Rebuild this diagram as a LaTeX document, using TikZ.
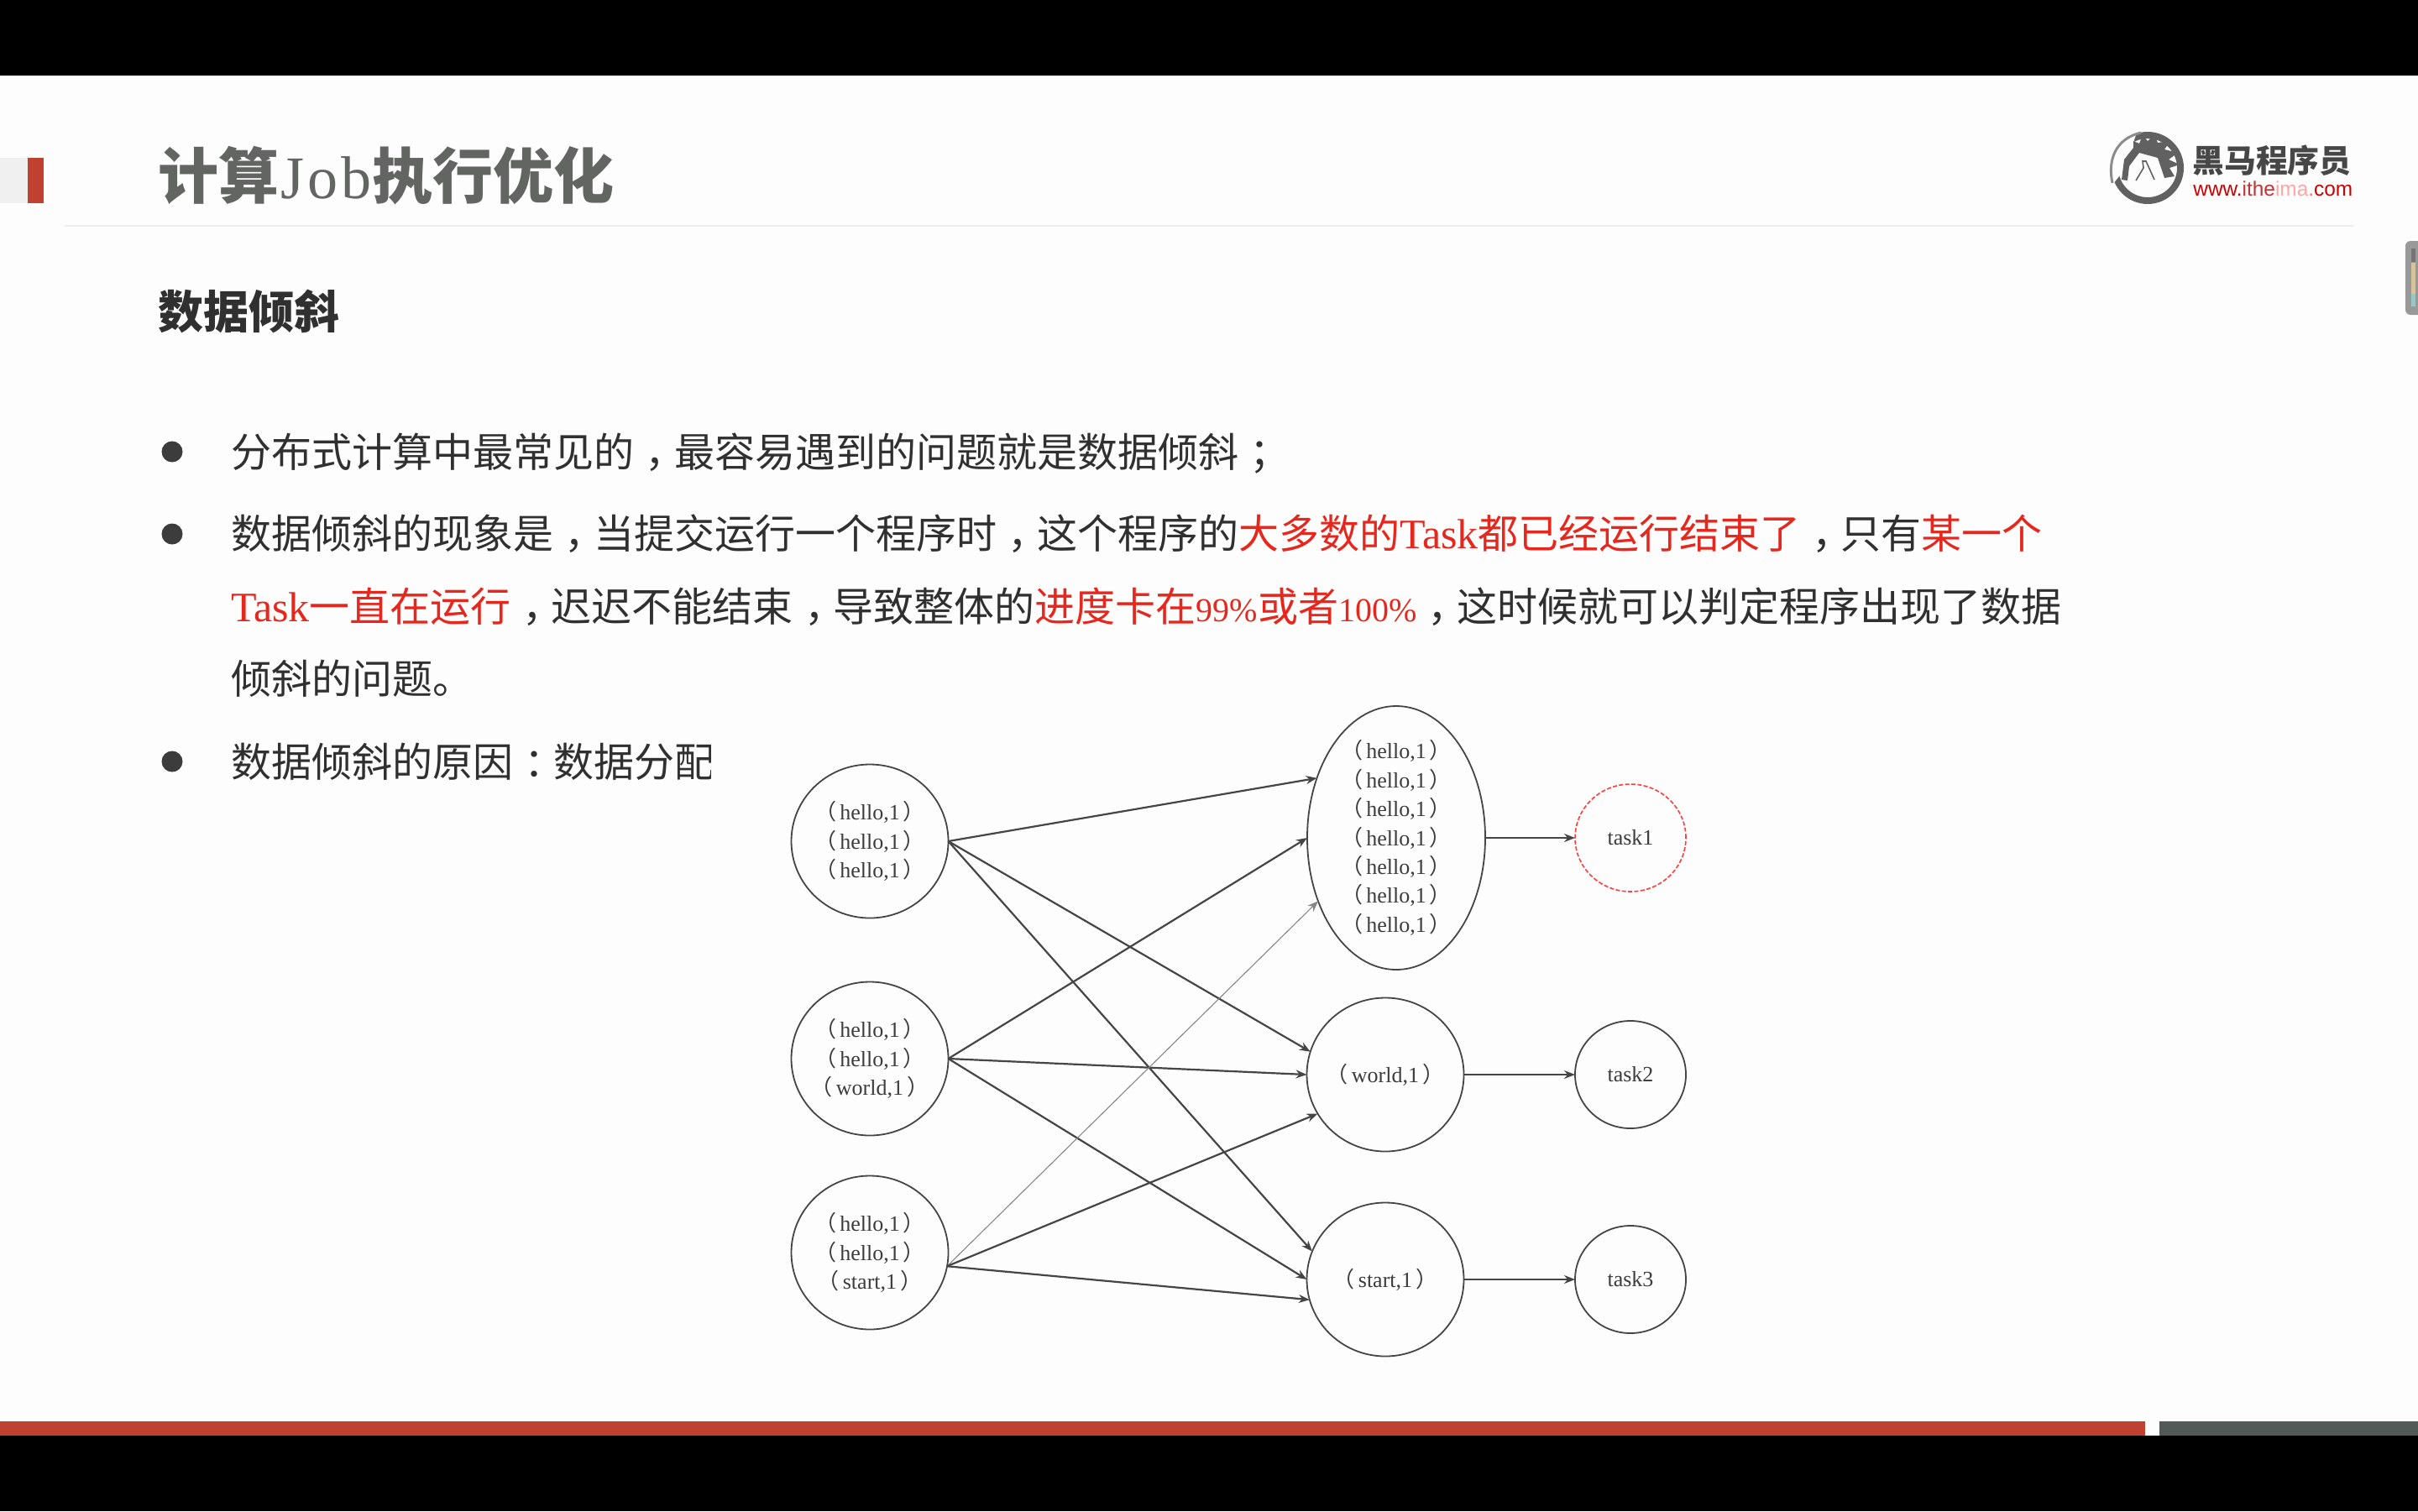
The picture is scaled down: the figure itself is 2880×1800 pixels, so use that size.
\documentclass[tikz,border=0pt]{standalone}
\usepackage{fontspec}
\setmainfont{Liberation Serif}
\setsansfont{Liberation Sans}
\newfontfamily\cjk{Noto Sans CJK SC}
\usetikzlibrary{shapes.geometric,arrows.meta}
\definecolor{pagebg}{HTML}{FDFDFD}
\definecolor{barred}{HTML}{C0412F}
\definecolor{bargrey}{HTML}{525A57}
\definecolor{titlegrey}{HTML}{636563}
\definecolor{bodytxt}{HTML}{303030}
\definecolor{hotred}{HTML}{E5271E}
\definecolor{edgegrey}{HTML}{454545}
\definecolor{labelgrey}{HTML}{3C3C3C}
\newcommand{\zh}[1]{{\cjk #1}}
\newcommand{\rd}[1]{{\color{hotred}#1}}
% full-width punctuation set centred in its cell, as the slide has it
\newcommand{\pn}[1]{\makebox[1em][l]{\kern.28em\zh{#1}}}
\newcommand{\tk}{{\fontsize{25pt}{25pt}\selectfont Task}}
\newcommand{\pc}[1]{{\fontsize{20pt}{20pt}\selectfont #1}}
\tikzset{
  x=0.5pt,y=-0.5pt,
  bodyline/.style={anchor=base west,inner sep=0pt,outer sep=0pt,text=bodytxt,font=\fontsize{24pt}{24pt}\selectfont},
  bulletdot/.style={circle,fill=labelgrey,draw=none,minimum size=12.5pt,inner sep=0pt},
  blob/.style={ellipse,draw=edgegrey,line width=0.9pt,fill=pagebg,inner sep=0pt,outer sep=0pt,
    minimum width=93.5pt,minimum height=91.5pt,align=center,text=labelgrey,
    font=\fontsize{13pt}{17.2pt}\selectfont},
  blobtext/.style={inner sep=0pt,outer sep=0pt,align=center,text=labelgrey,font=\fontsize{13pt}{17.2pt}\selectfont},
  tasknode/.style={blob,minimum width=66pt,minimum height=64pt},
  link/.style={draw=edgegrey,line width=1.1pt,-{Stealth[length=6.5pt,width=5pt]}},
  thinlink/.style={link,draw=edgegrey!65,line width=0.55pt},
}
\newcommand{\pair}[1]{\makebox[50pt][c]{\zh{（}\kern2pt #1\kern2pt\zh{）}}}
\newcommand{\kv}{\pair{hello,1}}
\begin{document}
\begin{tikzpicture}
\useasboundingbox (0,0) rectangle (2880,1800);
\fill[pagebg] (0,0) rectangle (2880,1800);
% bands
\fill[black] (0,0) rectangle (2880,90);
\fill[black] (0,1710) rectangle (2880,1800);
\fill[barred] (0,1693) rectangle (2555,1710);
\fill[bargrey] (2572,1693) rectangle (2880,1710);
% header
\fill[black!6] (0,188) rectangle (33,242);
\fill[barred] (33,188) rectangle (52,242);
\fill[black!7] (77,268) rectangle (2803,270);
\node[anchor=base west,inner sep=0pt,text=titlegrey,font=\fontsize{36pt}{36pt}\selectfont] (title) at (188,236)
  {\zh{\bfseries 计算}\kern1pt J\kern2pt o\kern2pt b\kern.5pt\zh{\bfseries 执行优化}};
\node[anchor=base west,inner sep=0pt,text=bodytxt,font=\fontsize{27pt}{27pt}\selectfont] (sub) at (188,391)
  {\zh{\bfseries 数据倾斜}};
% logo
\fill[black!62,even odd rule] (2558,200) circle[radius=43] (2558,200) circle[radius=35];
\fill[pagebg] (2514,150) -- (2548,150) -- (2528,205) -- (2512,225) -- cycle;
\draw[black!45,line width=1.5pt] (2550,158) .. controls (2520,165) and (2510,190) .. (2516,218);
\fill[black!62] (2527,214) -- (2530,190) -- (2541,176) -- (2541,168) -- (2548,171) -- (2552,161) -- (2558,168) -- (2566,160) -- (2570,170) -- (2585,168) -- (2578,178) -- (2594,182) -- (2583,190) -- (2596,196) -- (2584,200) -- (2590,210) -- (2578,212) -- (2570,188) -- (2548,182) -- (2536,198) -- (2534,215) -- cycle;
\draw[black!62,line width=0.8pt] (2544,215) -- (2553,200) -- (2552,192) -- (2556,192) -- (2566,214);
\node[anchor=base west,inner sep=0pt,text=black!72,font=\fontsize{18.9pt}{18.9pt}\selectfont] (logotxt) at (2611,205) {\zh{\bfseries 黑马程序员}};
\node[anchor=base west,inner sep=0pt,font=\sffamily\fontsize{12.2pt}{12.2pt}\selectfont] (logourl) at (2612,233)
  {\color{red!80!black}www.\color{red!70!black!80}ithe\color{red!35}ima\color{red!55}.\color{red!80!black}com};
% scroll widget
\definecolor{tickamber}{HTML}{D8C49A}
\definecolor{tickteal}{HTML}{9CC6C4}
\fill[black!40,rounded corners=3pt] (2865,287) rectangle (2890,375);
\fill[black!55] (2872,296) rectangle (2877,312);
\fill[tickamber] (2872,313) rectangle (2877,350);
\fill[tickteal] (2872,350) rectangle (2877,365);
% body
\node[bulletdot] (b1) at (205,538) {};
\node[bulletdot] (b2) at (205,636) {};
\node[bulletdot] (b3) at (205,907) {};
\node[bodyline] (l1) at (275,556) {\zh{分布式计算中最常见的}\pn{，}\zh{最容易遇到的问题就是数据倾斜}\pn{；}};
\node[bodyline] (l2) at (275,653) {\zh{数据倾斜的现象是}\pn{，}\zh{当提交运行一个程序时}\pn{，}\zh{这个程序的}\rd{\zh{大多数的}\tk\zh{都已经运行结束了}}\pn{，}\zh{只有}\rd{\zh{某一个}}};
\node[bodyline] (l3) at (275,740) {\rd{\tk\zh{一直在运行}}\pn{，}\zh{迟迟不能结束}\pn{，}\zh{导致整体的}\rd{\zh{进度卡在}\pc{99\%}\zh{或者}\pc{100\%}}\pn{，}\zh{这时候就可以判定程序出现了数据}};
\node[bodyline] (l4) at (275,826) {\zh{倾斜的问题。}};
\node[bodyline] (l5) at (275,925) {\zh{数据倾斜的原因}\pn{：}\zh{数据分配}};
\fill[pagebg] (847,870) rectangle (930,950);
% diagram
\node[blob] (L1) at (1036,1002) {\kv\\\kv\\\kv};
\node[blob] (L2) at (1036,1261) {\kv\\\kv\\\pair{world,1}};
\node[blob] (L3) at (1036,1492) {\kv\\\kv\\\pair{start,1}};
\node[blob,minimum width=106pt,minimum height=157pt] (M1) at (1663,998) {};
\node[blobtext] (M1t) at (M1.center) {\kv\\\kv\\\kv\\\kv\\\kv\\\kv\\\kv};
\node[blob] (M2) at (1650,1280) {\pair{world,1}};
\node[blob] (M3) at (1650,1524) {\pair{start,1}};
\node[tasknode,draw=red!75!pagebg,dash pattern=on 2.5pt off 1.2pt,line width=0.8pt] (T1) at (1942,998) {task1};
\node[tasknode] (T2) at (1942,1280) {task2};
\node[tasknode] (T3) at (1942,1524) {task3};
\draw[link] (L1.east) -- (M1.143);
\draw[link] (L1.east) -- (M2.163);
\draw[link] (L1.east) -- (M3.159);
\draw[link] (L2.east) -- (M1.west);
\draw[link] (L2.east) -- (M2.west);
\draw[link] (L2.east) -- (M3.west);
\draw[thinlink] (L3.-10) -- (M1.219);
\draw[link] (L3.-10) -- (M2.210);
\draw[link] (L3.-10) -- (M3.195);
\draw[link] (M1.east) -- (T1.west);
\draw[link] (M2.east) -- (T2.west);
\draw[link] (M3.east) -- (T3.west);
\end{tikzpicture}
\end{document}
